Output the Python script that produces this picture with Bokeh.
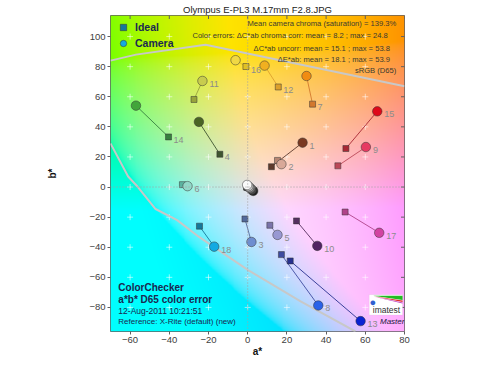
import numpy as np
from bokeh.plotting import figure
from bokeh.models import (ColumnDataSource, Span, Label, Legend, LegendItem,
                          FixedTicker, PolyAnnotation)
from bokeh.core.properties import value
from bokeh.embed import file_html
from bokeh.resources import INLINE

# ---------------- data ----------------
patch_id = [str(i) for i in range(1, 25)]
ideal_a = [12.1, 15.2, -1.4, -14.2, 11.3, -33.3, 33.1, 17.2, 46.0, 24.9, -27.4, 15.6,
           21.7, -40.4, 50.1, -0.9, 49.7, -24.6, -0.5, -0.6, -0.5, -0.4, 0.0, 0.3]
ideal_b = [13.5, 17.7, -21.2, 21.8, -25.4, 1.6, 55.1, -44.9, 14.1, -22.5, 58.2, 66.5,
           -49.1, 33.3, 25.6, 80.1, -16.6, -26.0, 1.5, 0.2, 0.0, -0.2, -0.3, -0.5]
camera_a = [28.0, 17.2, 1.9, -24.9, 15.2, -30.7, 30.0, 36.0, 60.3, 35.5, -23.1, 8.6,
            57.6, -57.0, 66.1, -6.2, 67.1, -17.1, -0.3, 0.3, 0.8, 1.4, 2.1, 2.8]
camera_b = [29.5, 15.2, -36.5, 43.3, -31.8, 0.6, 73.8, -78.7, 26.6, -39.1, 70.5, 80.7,
            -89.1, 54.1, 50.3, 84.3, -30.4, -39.6, 1.4, 0.6, -0.2, -0.9, -1.8, -2.6]
ideal_color = ["#5e3a2c", "#b58572", "#53699a", "#3e5530", "#7a74aa", "#5cb3a0",
               "#d3782e", "#3e4ba0", "#bb4858", "#55305f", "#98a43c", "#dca02c",
               "#283190", "#35803e", "#a82834", "#e0c024", "#b0438a", "#16789a",
               "#f3f3f2", "#c8c8c8", "#a0a0a0", "#7a7a79", "#555555", "#343434"]
camera_color = ["#7a3a22", "#d8a898", "#6e8ed0", "#4a6424", "#9898d2", "#92d8c8",
                "#f08c12", "#2a62e8", "#e63a62", "#512262", "#c8cc4e", "#f0b020",
                "#0a22d2", "#42a63a", "#de0a1a", "#f0d844", "#d242a2", "#12aae2",
                "#fafafa", "#d2d2d2", "#a8a8a8", "#787878", "#484848", "#202020"]

# sRGB gamut boundary at this view (a*, b*)
gamut_upper_a = [-70, -57, -21.5, 80]
gamut_upper_b = [84, 88, 94.5, 67]
gamut_lower_a = [-70, -61, -56, -47, -36, -25, 0, 27, 55]
gamut_lower_b = [29, 7, 0, -14.6, -22, -33, -55, -76, -96]

x_ticks = [-60, -40, -20, 0, 20, 40, 60, 80]
y_ticks = [-80, -60, -40, -20, 0, 20, 40, 60, 80, 100]
grid_a = [-60, -40, -20, 0, 20, 40, 60]
grid_b = [-80, -60, -40, -20, 0, 20, 40, 60, 80, 100]

A_MIN, A_MAX, B_MIN, B_MAX = -70, 80, -96, 114
FONT = "Liberation Sans"

p = figure(width=484, height=359, x_range=(A_MIN, A_MAX), y_range=(B_MIN, B_MAX),
           output_backend="svg", toolbar_location=None,
           min_border_left=110, min_border_right=80, min_border_top=12, min_border_bottom=20)
p.background_fill_color = "white"
p.border_fill_color = "white"
p.xgrid.visible = False
p.ygrid.visible = False
p.outline_line_color = "#606060"

# ---------------- background a*b* plane ----------------
L_BG = 90.0
na, nb = 300, 420
aa = np.linspace(A_MIN, A_MAX, na)
bb = np.linspace(B_MIN, B_MAX, nb)
AA, BB = np.meshgrid(aa, bb)
fy = (L_BG + 16) / 116 * np.ones_like(AA)
fx = fy + AA / 500
fz = fy - BB / 200
def finv(t):
    d = 6 / 29
    return np.where(t > d, t ** 3, 3 * d * d * (t - 4 / 29))
X = 0.95047 * finv(fx)
Y = finv(fy)
Z = 1.08883 * finv(fz)
R = 3.2406 * X - 1.5372 * Y - 0.4986 * Z
G = -0.9689 * X + 1.8758 * Y + 0.0415 * Z
Bc = 0.0557 * X - 0.2040 * Y + 1.0570 * Z
def gam(c):
    c = np.clip(c, 0, 1)
    return np.where(c <= 0.0031308, 12.92 * c, 1.055 * c ** (1 / 2.4) - 0.055)
img = np.empty((nb, na), dtype=np.uint32)
view = img.view(dtype=np.uint8).reshape((nb, na, 4))
view[..., 0] = (gam(R) * 255).astype(np.uint8)
view[..., 1] = (gam(G) * 255).astype(np.uint8)
view[..., 2] = (gam(Bc) * 255).astype(np.uint8)
view[..., 3] = 255
p.image_rgba(image=[img], x=A_MIN, y=B_MIN, dw=A_MAX - A_MIN, dh=B_MAX - B_MIN)

# grid crosses
ga, gb = np.meshgrid(grid_a, grid_b)
p.scatter(ga.ravel(), gb.ravel(), marker="cross", size=6, line_color="white",
          line_alpha=0.55, line_width=1)

# mirrored ticks on the top and right frame edges
p.scatter(x=[A_MAX] * len(y_ticks), y=y_ticks, marker="dash", size=7,
          line_color="#606060", line_width=1)
p.scatter(x=x_ticks, y=[B_MAX] * len(x_ticks), marker="dash", angle=np.pi / 2, size=7,
          line_color="#606060", line_width=1)

p.add_layout(Span(location=0, dimension="height", line_color="#a0a0a0",
                  line_dash="1 2", line_width=1))
p.add_layout(Span(location=0, dimension="width", line_color="#a0a0a0",
                  line_dash="1 2", line_width=1))

p.line(gamut_upper_a, gamut_upper_b, line_color="#c8c8c8", line_width=2)
p.line(gamut_lower_a, gamut_lower_b, line_color="#c8c8c8", line_width=2)

# ---------------- markers ----------------
src = ColumnDataSource(dict(ia=ideal_a, ib=ideal_b, ca=camera_a, cb=camera_b,
                            ic=ideal_color, cc=camera_color))
p.segment(x0="ia", y0="ib", x1="ca", y1="cb", line_color="ic", line_width=0.9, source=src)
sq = p.scatter(x="ia", y="ib", marker="square", size=6, fill_color="ic",
               line_color="#303030", line_alpha=0.7, line_width=0.7, source=src)

neu_idx = list(range(23, 17, -1))
neu_src = ColumnDataSource(dict(x=[camera_a[i] for i in neu_idx],
                                y=[camera_b[i] for i in neu_idx],
                                c=[camera_color[i] for i in neu_idx]))
p.scatter(x="x", y="y", marker="circle", size=9.5, fill_color="c",
          line_color="#303030", line_alpha=0.7, line_width=0.7, source=neu_src)

chroma_src = ColumnDataSource(dict(x=camera_a[:18], y=camera_b[:18], c=camera_color[:18]))
cam = p.scatter(x="x", y="y", marker="circle", size=9.5, fill_color="c",
                line_color="#303030", line_alpha=0.7, line_width=0.7, source=chroma_src)

# patch number labels: next to the point further right
lab_x, lab_y, lab_off = [], [], []
for i in range(18):
    if camera_a[i] >= ideal_a[i]:
        lab_x.append(camera_a[i]); lab_y.append(camera_b[i]); lab_off.append(7)
    else:
        lab_x.append(ideal_a[i]); lab_y.append(ideal_b[i]); lab_off.append(5)
p.text(x=lab_x, y=lab_y, text=patch_id[:18], x_offset=lab_off, y_offset=3,
       text_baseline="middle", text_align="left", text_font_size="9px",
       text_color="#8c8c8c", text_font=value(FONT))

# ---------------- legend ----------------
legend = Legend(items=[LegendItem(label="Ideal", renderers=[sq], index=17),
                       LegendItem(label="Camera", renderers=[cam], index=17)],
                location="top_left", background_fill_alpha=0, border_line_alpha=0,
                glyph_height=16, glyph_width=18, spacing=0, margin=2, padding=2,
                label_standoff=3, label_text_font_size="10.5px",
                label_text_font_style="bold", label_text_color="#1a2a50",
                label_text_font=FONT, label_height=16)
p.add_layout(legend)

# ---------------- text annotations ----------------
info_lines = ["Mean camera chroma (saturation) = 139.3%",
              "Color errors:  \u0394C*ab chroma corr:   mean = 8.2 ;  max = 24.8",
              "\u0394C*ab uncorr:   mean = 15.1 ;  max = 53.8",
              "\u0394E*ab:   mean = 18.1 ;  max = 53.9",
              "sRGB (D65)"]
info_y = [108.5, 100.4, 92.3, 84.8, 77.3]
for t, yy in zip(info_lines, info_y):
    p.add_layout(Label(x=75.8, y=yy, text=t, text_align="right", text_baseline="middle",
                       text_font_size="7.6px", text_color="#3a3a30", text_font=FONT))

bl = [("ColorChecker", -66.6, "10px", "bold"),
      ("a*b* D65 color error", -74.7, "10px", "bold"),
      ("12-Aug-2011 10:21:51", -82.2, "8.5px", "normal"),
      ("Reference: X-Rite (default) (new)", -89.4, "8px", "normal")]
for t, yy, fs, st in bl:
    p.add_layout(Label(x=-66, y=yy, text=t, text_align="left", text_baseline="middle",
                       text_font_size=fs, text_font_style=st, text_color="#1a2850",
                       text_font=FONT))

# imatest logo
p.add_layout(PolyAnnotation(xs=[62, 79, 79, 62], ys=[-71.5, -71.5, -85, -85],
                            fill_color="white", fill_alpha=1, line_color="#bbbbbb",
                            line_width=0.5))
p.add_layout(PolyAnnotation(xs=[64, 79, 79], ys=[-72.3, -72.3, -75.0],
                            fill_color="#22bb22", fill_alpha=1, line_color=None))
p.add_layout(PolyAnnotation(xs=[64, 79, 79], ys=[-72.6, -75.4, -76.4],
                            fill_color="#e03030", fill_alpha=1, line_color=None))
p.add_layout(PolyAnnotation(xs=[64, 79, 79], ys=[-72.8, -76.8, -77.4],
                            fill_color="#c040c0", fill_alpha=1, line_color=None))
p.add_layout(Label(x=63.8, y=-76.5, text="\u25CF", text_align="center", text_baseline="middle",
                   text_font_size="11px", text_color="#3060d0"))
p.add_layout(Label(x=70.8, y=-82, text="imatest", text_align="center", text_baseline="middle",
                   text_font_size="8.5px", text_color="#303030", text_font=FONT))
p.add_layout(Label(x=67.5, y=-89.2, text="Master", text_align="left", text_baseline="middle",
                   text_font_size="8px", text_font_style="italic", text_color="#202040",
                   text_font=FONT))

# ---------------- axes ----------------
p.title.text = "Olympus E-PL3 M.17mm F2.8.JPG"
p.title.align = "center"
p.title.text_font_size = "9.5px"
p.title.text_font_style = "normal"
p.title.text_color = "#222222"
p.title.text_font = FONT
p.title.standoff = 2

for ax in (p.xaxis[0], p.yaxis[0]):
    ax.major_label_text_font_size = "9.5px"
    ax.major_label_text_color = "#404040"
    ax.major_label_text_font = FONT
    ax.axis_label_text_font = FONT
    ax.axis_label_text_font_size = "10px"
    ax.axis_label_text_font_style = "bold"
    ax.axis_label_text_color = "#111111"
    ax.minor_tick_line_color = None
    ax.major_tick_out = 3
    ax.major_tick_in = 0
    ax.major_tick_line_color = "#606060"
    ax.axis_line_color = None
    ax.major_label_standoff = 2
p.xaxis[0].ticker = FixedTicker(ticks=x_ticks)
p.yaxis[0].ticker = FixedTicker(ticks=y_ticks)
p.xaxis[0].axis_label = "a*"
p.xaxis[0].axis_label_standoff = 0
p.yaxis[0].axis_label = "b*"
p.yaxis[0].axis_label_standoff = 28

open("out.html", "w").write(file_html(p, INLINE))
